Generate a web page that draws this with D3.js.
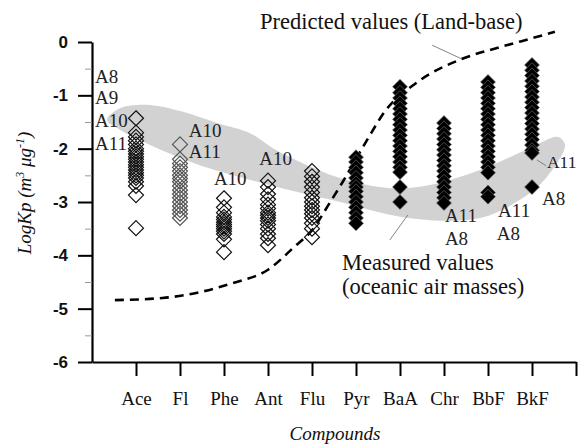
<!DOCTYPE html>
<html>
<head>
<meta charset="utf-8">
<script src="https://cdn.jsdelivr.net/npm/d3@7"></script>
<style>
  body { margin: 0; background: #fff; }
  .serif { font-family: "Liberation Serif", "Times New Roman", serif; }
</style>
</head>
<body>
<div id="chart"></div>
<script>
// compounds on the x axis (index 1..10)
var compounds = ["Ace", "Fl", "Phe", "Ant", "Flu", "Pyr", "BaA", "Chr", "BbF", "BkF"];

// measured LogKp per compound
var vAce = [-1.43, -1.7, -1.78, -1.85, -1.92, -2.0, -2.05, -2.1, -2.15, -2.2, -2.25, -2.3, -2.35, -2.4, -2.45, -2.5, -2.55, -2.62, -2.7, -2.87, -3.49];
var vFl  = [-1.92, -2.2, -2.28, -2.35, -2.42, -2.5, -2.56, -2.62, -2.7, -2.78, -2.85, -2.92, -3.0, -3.08, -3.15, -3.22, -3.3];
var vPhe = [-2.93, -3.1, -3.2, -3.28, -3.33, -3.38, -3.42, -3.46, -3.5, -3.55, -3.6, -3.7, -3.94];
var vAnt = [-2.6, -2.72, -2.85, -2.95, -3.05, -3.12, -3.2, -3.25, -3.3, -3.35, -3.42, -3.5, -3.6, -3.68, -3.81];
var vFlu = [-2.42, -2.52, -2.62, -2.72, -2.82, -2.92, -3.0, -3.08, -3.15, -3.22, -3.3, -3.4, -3.5, -3.66];
var vPyr = [-2.16, -2.25, -2.35, -2.45, -2.55, -2.65, -2.72, -2.8, -2.9, -3.0, -3.1, -3.2, -3.3, -3.4];
var vBaA = [-0.84, -0.95, -1.05, -1.15, -1.25, -1.35, -1.45, -1.55, -1.65, -1.75, -1.85, -1.95, -2.05, -2.15, -2.25, -2.35, -2.44, -2.72, -3.0];
var vChr = [-1.52, -1.62, -1.72, -1.82, -1.92, -2.02, -2.12, -2.22, -2.32, -2.42, -2.52, -2.62, -2.72, -2.82, -2.92, -3.02];
var vBbF = [-0.75, -0.85, -0.95, -1.05, -1.15, -1.25, -1.35, -1.45, -1.55, -1.65, -1.75, -1.85, -1.95, -2.05, -2.15, -2.25, -2.35, -2.45, -2.82, -2.9];
var vBkF = [-0.43, -0.53, -0.63, -0.73, -0.83, -0.93, -1.03, -1.13, -1.23, -1.33, -1.43, -1.53, -1.63, -1.73, -1.83, -1.93, -2.03, -2.08, -2.72];
var measured = [vAce, vFl, vPhe, vAnt, vFlu, vPyr, vBaA, vChr, vBbF, vBkF];
var markerType = ["open", "grey", "open", "open", "open", "filled", "filled", "filled", "filled", "filled"];

// predicted (land-base) curve
var predIdx = [0.52, 1.6, 2.45, 3.2, 4.0, 4.6, 5.0, 5.4, 5.7, 6.25, 6.65, 7.4, 8.4, 9.3, 10.0, 10.52];
var predLog = [-4.84, -4.8, -4.69, -4.52, -4.27, -3.84, -3.53, -3.02, -2.62, -1.84, -1.31, -0.75, -0.32, -0.09, 0.07, 0.19];

// grey band of measured values (oceanic air masses), outline going round
var bandIdx = [0.34, 0.64, 1.32, 2.07, 2.84, 3.59, 4.11, 4.89, 5.64, 6.77, 7.68, 8.82, 9.95, 10.59, 10.75, 10.34, 9.73, 8.82, 7.68, 6.77, 5.64, 4.5, 3.36, 2.45, 1.32, 0.64];
var bandLog = [-1.46, -1.24, -1.18, -1.31, -1.52, -1.71, -1.99, -2.31, -2.55, -2.74, -2.68, -2.4, -1.99, -1.78, -1.93, -2.53, -2.96, -3.3, -3.34, -3.24, -3.0, -2.78, -2.53, -2.31, -1.93, -1.65];

// aerosol sample labels
var sampleText = ["A8", "A9", "A10", "A11", "A10", "A11", "A10", "A10", "A11", "A8", "A11", "A8", "A11", "A8"];
var sampleIdx  = [0.07, 0.07, 0.07, 0.07, 2.2, 2.2, 2.77, 3.8, 8.02, 8.02, 9.23, 9.2, 10.34, 10.23];
var sampleLog  = [-0.77, -1.16, -1.59, -2.03, -1.78, -2.18, -2.68, -2.31, -3.38, -3.81, -3.28, -3.71, -2.36, -3.06];

var yTicks = [-6, -5, -4, -3, -2, -1, 0];
var yMinor = [-5.5, -4.5, -3.5, -2.5, -1.5, -0.5];

var W = 579, H = 446;
var svg = d3.select("#chart").append("svg").attr("width", W).attr("height", H);

var x = d3.scaleLinear().domain([0, 11]).range([92, 576]);
var y = d3.scaleLinear().domain([-6, 0]).range([362, 42]);

// band
var bandPts = bandIdx.map(function(d, i) { return [x(d), y(bandLog[i])]; });
svg.append("path")
    .attr("d", d3.line().curve(d3.curveCatmullRomClosed.alpha(0.5))(bandPts))
    .attr("fill", "#d2d2d2");

// predicted curve
var predPts = predIdx.map(function(d, i) { return [x(d), y(predLog[i])]; });
svg.append("path")
    .attr("d", d3.line().curve(d3.curveMonotoneX)(predPts))
    .attr("fill", "none")
    .attr("stroke", "#000")
    .attr("stroke-width", 2.6)
    .attr("stroke-dasharray", "9,6");

// leader lines
function leader(x1, y1, x2, y2) {
    svg.append("line")
        .attr("x1", x(x1)).attr("y1", y(y1))
        .attr("x2", x(x2)).attr("y2", y(y2))
        .attr("stroke", "#777").attr("stroke-width", 0.9);
}
leader(7.73, -0.06, 8.41, -0.32);
leader(6.77, -3.71, 7.18, -3.24);
leader(10.11, -2.21, 10.32, -2.32);

// markers
var diamond = d3.symbol().type(d3.symbolDiamond2).size(143);
measured.forEach(function(vals, i) {
    var t = markerType[i];
    svg.append("g").selectAll("path")
        .data(vals)
        .enter().append("path")
        .attr("d", diamond)
        .attr("transform", function(d) { return "translate(" + x(i + 1) + "," + y(d) + ")"; })
        .attr("fill", t === "filled" ? "#000" : "none")
        .attr("stroke", t === "filled" ? "#777" : (t === "grey" ? "#555" : "#111"))
        .attr("stroke-width", t === "filled" ? 0.6 : 1.2);
});

// axes
var yAxis = d3.axisLeft(y).tickValues(yTicks).tickSize(14).tickSizeOuter(0).tickPadding(10)
    .tickFormat(function(d) { return String(d); });
var gy = svg.append("g").attr("transform", "translate(92,0)").call(yAxis);
gy.selectAll(".tick line").attr("stroke-width", 2);
gy.select(".domain").attr("stroke-width", 2.2);
gy.selectAll("text")
    .attr("font-family", "'Liberation Sans', Arial, sans-serif")
    .attr("font-weight", "bold")
    .attr("font-size", 17)
    .attr("fill", "#111");

var yAxisMinor = d3.axisLeft(y).tickValues(yMinor).tickSize(7).tickSizeOuter(0).tickFormat("");
var gym = svg.append("g").attr("transform", "translate(92,0)").call(yAxisMinor);
gym.select(".domain").remove();
gym.selectAll(".tick line").attr("stroke", "#999").attr("stroke-width", 1);

var xAxis = d3.axisBottom(x).tickValues(d3.range(1, 12)).tickSize(14).tickSizeOuter(0).tickPadding(16)
    .tickFormat(function(d) { return compounds[d - 1] || ""; });
var gx = svg.append("g").attr("transform", "translate(0,362)").call(xAxis);
gx.selectAll(".tick line").attr("stroke-width", 2);
gx.select(".domain").attr("stroke-width", 2.2);
gx.selectAll("text")
    .attr("font-family", "'Liberation Serif', 'Times New Roman', serif")
    .attr("font-size", 19)
    .attr("fill", "#111");

// sample labels
svg.append("g").selectAll("text")
    .data(sampleText)
    .enter().append("text")
    .attr("class", "serif")
    .attr("x", function(d, i) { return x(sampleIdx[i]); })
    .attr("y", function(d, i) { return y(sampleLog[i]); })
    .attr("font-size", function(d, i) { return i === 12 ? 17.5 : 19; })
    .attr("fill", "#222")
    .text(function(d) { return d; });

// annotations
function note(txt, xi, yv) {
    svg.append("text").attr("class", "serif")
        .attr("x", x(xi)).attr("y", y(yv))
        .attr("font-size", 22.5).attr("fill", "#111")
        .text(txt);
}
note("Predicted values (Land-base)", 3.82, 0.24);
note("Measured values", 5.68, -4.28);
note("(oceanic air masses)", 5.68, -4.73);

// axis titles
svg.append("text").attr("class", "serif")
    .attr("x", 335).attr("y", 440)
    .attr("text-anchor", "middle")
    .attr("font-style", "italic")
    .attr("font-size", 19)
    .attr("fill", "#111")
    .text("Compounds");

var yt = svg.append("text").attr("class", "serif")
    .attr("transform", "translate(31,193) rotate(-90)")
    .attr("text-anchor", "middle")
    .attr("font-style", "italic")
    .attr("font-size", 19)
    .attr("fill", "#111");
yt.append("tspan").text("LogKp (m");
yt.append("tspan").attr("font-size", 12).attr("dy", -7).text("3");
yt.append("tspan").attr("dy", 7).text(" μg");
yt.append("tspan").attr("font-size", 12).attr("dy", -7).text("-1");
yt.append("tspan").attr("dy", 7).text(")");
</script>
</body>
</html>
